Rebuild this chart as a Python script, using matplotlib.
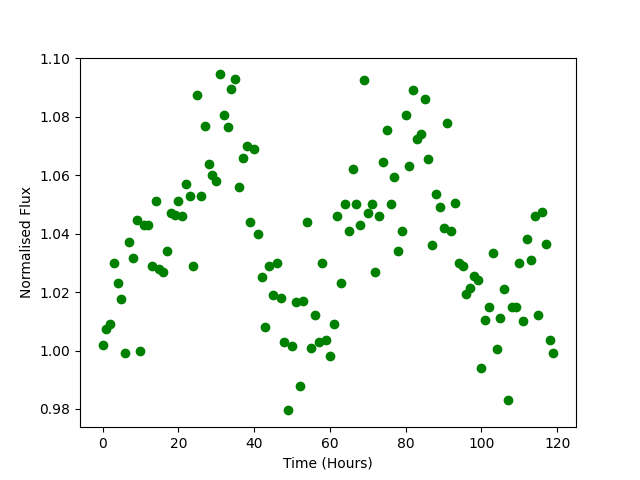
import numpy as np
import matplotlib
matplotlib.use("Agg")
import matplotlib.pyplot as plt

hours = np.arange(120)
flux = [
    1.002, 1.0075, 1.009, 1.030, 1.023, 1.0175, 0.999, 1.037, 1.0315, 1.0445,
    1.000, 1.043, 1.043, 1.029, 1.051, 1.028, 1.027, 1.034, 1.047, 1.0465,
    1.051, 1.046, 1.057, 1.053, 1.029, 1.0875, 1.053, 1.077, 1.064, 1.060,
    1.058, 1.0945, 1.0805, 1.0765, 1.0895, 1.093, 1.056, 1.066, 1.070, 1.044,
    1.069, 1.040, 1.025, 1.008, 1.029, 1.019, 1.030, 1.018, 1.003, 0.9795,
    1.0015, 1.0165, 0.988, 1.017, 1.044, 1.001, 1.012, 1.003, 1.030, 1.0035,
    0.998, 1.009, 1.046, 1.023, 1.050, 1.041, 1.062, 1.050, 1.043, 1.0925,
    1.047, 1.050, 1.027, 1.046, 1.0645, 1.0755, 1.050, 1.0595, 1.034, 1.041,
    1.0805, 1.063, 1.089, 1.0725, 1.074, 1.086, 1.0655, 1.036, 1.0535, 1.049,
    1.042, 1.078, 1.041, 1.0505, 1.030, 1.029, 1.0195, 1.0215, 1.0255, 1.024,
    0.994, 1.0105, 1.015, 1.0335, 1.0005, 1.011, 1.021, 0.983, 1.015, 1.015,
    1.030, 1.010, 1.038, 1.031, 1.046, 1.012, 1.0475, 1.0365, 1.0035, 0.999,
]

fig, ax = plt.subplots(figsize=(6.4, 4.8), dpi=100)
ax.plot(hours, flux, 'o', color='g')
ax.set_xlabel("Time (Hours)")
ax.set_ylabel("Normalised Flux")
fig.savefig("out.png")
